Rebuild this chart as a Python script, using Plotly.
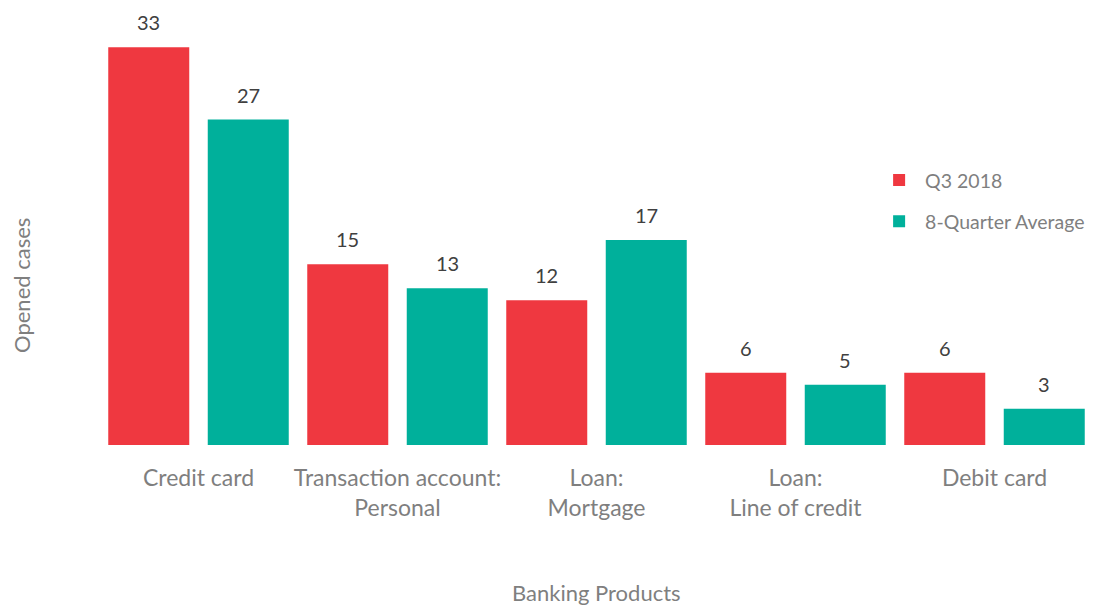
import plotly.graph_objects as go

categories = ["Credit card", "Transaction account:<br>Personal", "Loan:<br>Mortgage",
              "Loan:<br>Line of credit", "Debit card"]
q3_2018 = [33, 15, 12, 6, 6]
avg_8q = [27, 13, 17, 5, 3]
series_names = ["Q3 2018", "8-Quarter Average"]
colors = ["#EF3840", "#00B09B"]

FONT = "Lato, 'Open Sans', sans-serif"

fig = go.Figure()
for name, vals, col in zip(series_names, [q3_2018, avg_8q], colors):
    fig.add_trace(go.Bar(name=name, x=categories, y=vals, marker_color=col,
                         marker_line_width=0, legendgroup=name))

# value labels above bars
half = 199 / 4
annotations = []
for vals, shift in [(q3_2018, -half), (avg_8q, half)]:
    for c, v in zip(categories, vals):
        annotations.append(dict(x=c, y=v, xref="x", yref="y", text=str(v), showarrow=False,
                                xshift=shift, yshift=11, yanchor="bottom",
                                font=dict(family=FONT, size=20, color="#404040")))
annotations.append(dict(text="Banking Products", xref="paper", yref="paper", x=0.5, y=-0.341,
                        showarrow=False, yanchor="middle",
                        font=dict(family=FONT, size=22, color="#7f7f7f")))
annotations.append(dict(text="Opened cases", xref="paper", yref="paper", x=-0.0774, y=0.3687,
                        showarrow=False, textangle=-90, xanchor="center", yanchor="middle",
                        font=dict(family=FONT, size=22, color="#7f7f7f")))

fig.update_layout(
    width=1089, height=597,
    margin=dict(l=91, r=3, t=3, b=160, autoexpand=False),
    paper_bgcolor="white", plot_bgcolor="white",
    barmode="group", bargap=0.0, bargroupgap=0.186,
    font=dict(family=FONT, size=23, color="#7f7f7f"),
    xaxis=dict(showgrid=False, showline=False, zeroline=False, ticks="",
               ticklabelstandoff=17, automargin=False,
               tickfont=dict(family=FONT, size=23, color="#7f7f7f")),
    yaxis=dict(range=[0, 36], showgrid=False, showline=False, zeroline=False,
               showticklabels=False, ticks="", automargin=False),
    legend=dict(x=0.778, y=0.655, xanchor="left", yanchor="top", tracegroupgap=13,
                itemwidth=42,
                font=dict(family=FONT, size=19.5, color="#7f7f7f"), bgcolor="rgba(0,0,0,0)"),
    annotations=annotations,
)

fig.write_html("out.html")
